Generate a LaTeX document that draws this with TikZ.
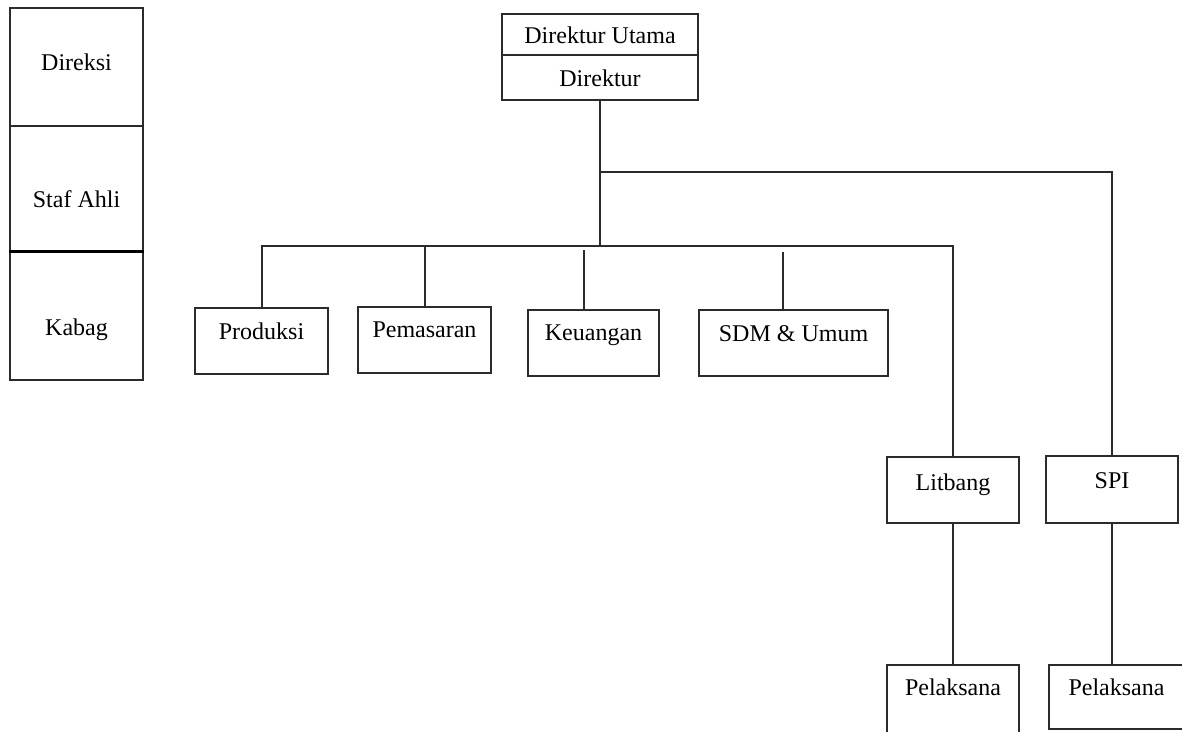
\documentclass[tikz,border=0pt]{standalone}
\usepackage{fontspec}
\setmainfont{Liberation Serif}
\definecolor{linec}{HTML}{2B2B2B}
\tikzset{
  box/.style={draw=linec, line width=1.4pt, inner sep=0pt, align=center,
    font=\fontsize{24}{29}\selectfont, text=black},
  wire/.style={draw=linec, line width=1.4pt}
}
\begin{document}
\begin{tikzpicture}[x=1pt, y=-1pt]
\useasboundingbox[fill=white] (0,0) rectangle (1182,731);

% legend column on the left
\node[box, minimum width=133pt, text height=62pt, text depth=56pt] (direksi) at (76.5,67) {Direksi};
\node[box, minimum width=133pt, text height=81pt, text depth=45pt] (staf) at (76.5,189) {Staf Ahli};
\node[box, minimum width=133pt, text height=83pt, text depth=45pt] (kabag) at (76.5,316) {Kabag};
\draw[draw=black, line width=3pt] (kabag.north west) -- (kabag.north east);

% top management
\node[box, minimum width=196pt, text height=29pt, text depth=12pt] (dirut) at (600,34.5) {Direktur Utama};
\node[box, minimum width=196pt, text height=31pt, text depth=14pt] (dir) at (600,77.5) {Direktur};

% departments
\node[box, minimum width=133pt, text height=31pt, text depth=35pt] (prod) at (261.5,341) {Produksi};
\node[box, minimum width=133pt, text height=30pt, text depth=36pt] (pem) at (424.5,340) {Pemasaran};
\node[box, minimum width=131pt, text height=30pt, text depth=36pt] (keu) at (593.5,343) {Keuangan};
\node[box, minimum width=189pt, text height=31pt, text depth=35pt] (sdm) at (793.5,343) {SDM \& Umum};

\node[box, minimum width=132pt, text height=33pt, text depth=33pt] (lit) at (953,490) {Litbang};
\node[box, minimum width=132pt, text height=32pt, text depth=35pt] (spi) at (1112,489.5) {SPI};

\node[box, minimum width=132pt, text height=30pt, text depth=72pt] (pel1) at (953,716) {Pelaksana};
\node[box, minimum width=135pt, text height=30pt, text depth=34pt] (pel2) at (1116.5,697) {Pelaksana};

% junction points of the connector lines
\coordinate (busL) at (262,246);
\coordinate (busR) at (953,246);
\coordinate (topR) at (1112,172);
\coordinate (pemTop) at (425,246);
\coordinate (keuTop) at (584,250);
\coordinate (sdmTop) at (783,252);

% connectors
\draw[wire] (dir.south) -- (dir.south |- busL);
\draw[wire] (dir.south |- topR) -- (topR) -- (spi.north -| topR);
\draw[wire] (prod.north -| busL) -- (busL) -- (busR) -- (lit.north -| busR);
\draw[wire] (pemTop) -- (pem.north -| pemTop);
\draw[wire] (keuTop) -- (keu.north -| keuTop);
\draw[wire] (sdmTop) -- (sdm.north -| sdmTop);
\draw[wire] (lit.south) -- (pel1.north);
\draw[wire] (spi.south) -- (pel2.north -| spi.south);
\end{tikzpicture}
\end{document}
